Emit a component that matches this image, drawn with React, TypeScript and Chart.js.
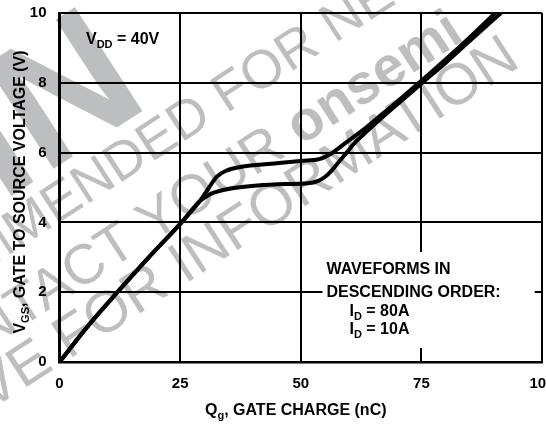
import React, { useEffect, useRef } from 'react';
import { Chart, registerables } from 'chart.js';

Chart.register(...registerables);

// ---- data ----
const chargeTicks = [0, 25, 50, 75, 100];
const voltageTicks = [0, 2, 4, 6, 8, 10];

// I_D = 80A (upper plateau)
const qg80A = [0, 6, 12, 18.5, 25.3, 29, 31, 32.5, 34.5, 38, 44, 50, 54, 56.5, 59.5, 63, 67, 71, 75, 80, 85, 90.3];
const vgs80A = [0, 1.05, 2.0, 3.0, 4.0, 4.6, 5.0, 5.3, 5.48, 5.6, 5.68, 5.76, 5.82, 5.99, 6.3, 6.66, 7.12, 7.58, 8.06, 8.67, 9.3, 10];
// I_D = 10A (lower plateau)
const qg10A = [0, 6, 12, 18.5, 25.3, 29, 30.5, 32, 35.5, 41, 47, 51.5, 53.5, 55, 56.5, 58, 59.5, 61, 63, 67, 71, 75, 80, 85, 91.5];
const vgs10A = [0, 1.05, 2.0, 3.0, 4.0, 4.6, 4.75, 4.85, 4.97, 5.06, 5.1, 5.12, 5.18, 5.3, 5.5, 5.75, 6.0, 6.25, 6.52, 7.02, 7.5, 7.98, 8.57, 9.2, 10];

const xAxisTitle = [{ t: 'Q' }, { t: 'g', sub: true }, { t: ', GATE CHARGE (nC)' }];
const yAxisTitle = [{ t: 'V' }, { t: 'GS', sub: true }, { t: ', GATE TO SOURCE VOLTAGE (V)' }];
const vddLabel = [{ t: 'V' }, { t: 'DD', sub: true }, { t: ' = 40V' }];
const noteLines = [
  [{ t: 'WAVEFORMS IN' }],
  [{ t: 'DESCENDING ORDER:' }],
  [{ t: 'I' }, { t: 'D', sub: true }, { t: ' = 80A' }],
  [{ t: 'I' }, { t: 'D', sub: true }, { t: ' = 10A' }],
];

const FONT = "'Liberation Sans', Arial, Helvetica, sans-serif";

type Seg = { t: string; sub?: boolean };

function segWidth(ctx: CanvasRenderingContext2D, segs: Seg[], size: number) {
  let w = 0;
  for (const s of segs) {
    ctx.font = `bold ${s.sub ? Math.round(size * 0.7) : size}px ${FONT}`;
    w += ctx.measureText(s.t).width;
  }
  return w;
}

function drawSegs(ctx: CanvasRenderingContext2D, segs: Seg[], x: number, y: number, size: number, align: 'left' | 'center') {
  const w = segWidth(ctx, segs, size);
  let cx = align === 'center' ? x - w / 2 : x;
  ctx.textAlign = 'left';
  ctx.textBaseline = 'alphabetic';
  for (const s of segs) {
    ctx.font = `bold ${s.sub ? Math.round(size * 0.7) : size}px ${FONT}`;
    ctx.fillText(s.t, cx, s.sub ? y + size * 0.28 : y);
    cx += ctx.measureText(s.t).width;
  }
}

// watermark: text lines anchored on one word (center at u,v in rotated frame)
const WM_ANGLE = (33 * Math.PI) / 180;
const wmLines = [
  { segs: [{ t: 'NOT RECOMMENDED ' }, { t: 'FOR' }, { t: ' NEW DESIGN' }], anchor: 1, u: 185, v: 204, size: 54, bold: [false, false, false] },
  { segs: [{ t: 'CONTACT YOUR ' }, { t: 'onsemi' }, { t: ' ' }], anchor: 1, u: 271, v: 271, size: 56, bold: [false, true, false] },
  { segs: [{ t: 'REPRESENTATIVE ' }, { t: 'FOR' }, { t: ' INFORMATION' }], anchor: 1, u: -77, v: 323, size: 58, bold: [false, false, false] },
  { segs: [{ t: 'IN' }], anchor: 0, u: -19, v: 121, size: 180, bold: [true] },
];

const watermarkPlugin = {
  id: 'watermark',
  beforeDraw(chart: any) {
    const ctx: CanvasRenderingContext2D = chart.ctx;
    ctx.save();
    ctx.fillStyle = '#bcbec0';
    ctx.rotate(-WM_ANGLE);
    ctx.textBaseline = 'middle';
    ctx.textAlign = 'left';
    for (const ln of wmLines) {
      const widths = ln.segs.map((s, i) => {
        ctx.font = `${ln.bold[i] ? 'bold ' : ''}${ln.size}px ${FONT}`;
        return ctx.measureText(s.t).width;
      });
      let start = ln.u - widths[ln.anchor] / 2;
      for (let i = 0; i < ln.anchor; i++) start -= widths[i];
      let cu = start;
      ln.segs.forEach((s, i) => {
        ctx.font = `${ln.bold[i] ? 'bold ' : ''}${ln.size}px ${FONT}`;
        ctx.fillText(s.t, cu, ln.v);
        cu += widths[i];
      });
    }
    ctx.restore();
  },
};

const textPlugin = {
  id: 'texts',
  afterDraw(chart: any) {
    const ctx: CanvasRenderingContext2D = chart.ctx;
    const { left, right } = chart.chartArea;
    ctx.save();
    ctx.fillStyle = '#000';
    // x title
    drawSegs(ctx, xAxisTitle as Seg[], (left + right) / 2 - 5, 415, 16, 'center');
    // y title
    ctx.save();
    ctx.translate(25, 192);
    ctx.rotate(-Math.PI / 2);
    drawSegs(ctx, yAxisTitle as Seg[], 0, 0, 16, 'center');
    ctx.restore();
    // VDD label
    drawSegs(ctx, vddLabel as Seg[], 86, 44, 16, 'left');
    // annotation box
    const xs = chart.scales.x;
    const ys = chart.scales.y;
    const bx0 = xs.getPixelForValue(54.5);
    const bx1 = xs.getPixelForValue(98.5);
    const by0 = ys.getPixelForValue(3.15);
    const by1 = ys.getPixelForValue(0.4);
    ctx.fillStyle = '#fff';
    ctx.fillRect(bx0, by0, bx1 - bx0, by1 - by0);
    ctx.fillStyle = '#000';
    const tx = bx0 + 4;
    drawSegs(ctx, noteLines[0] as Seg[], tx, 274, 16, 'left');
    drawSegs(ctx, noteLines[1] as Seg[], tx, 297, 16, 'left');
    drawSegs(ctx, noteLines[2] as Seg[], tx + 23, 316, 16, 'left');
    drawSegs(ctx, noteLines[3] as Seg[], tx + 23, 334, 16, 'left');
    ctx.restore();
  },
};

export default function App() {
  const ref = useRef<HTMLCanvasElement>(null);
  useEffect(() => {
    if (!ref.current) return;
    const chart = new Chart(ref.current, {
      type: 'line',
      data: {
        datasets: [
          {
            label: 'I_D = 80A',
            data: qg80A.map((q, i) => ({ x: q, y: vgs80A[i] })),
            borderColor: '#000',
            borderWidth: 4,
            pointRadius: 0,
            cubicInterpolationMode: 'monotone',
            fill: false,
          },
          {
            label: 'I_D = 10A',
            data: qg10A.map((q, i) => ({ x: q, y: vgs10A[i] })),
            borderColor: '#000',
            borderWidth: 4,
            pointRadius: 0,
            cubicInterpolationMode: 'monotone',
            fill: false,
          },
        ],
      },
      options: {
        animation: false,
        responsive: false,
        devicePixelRatio: 1,
        layout: { padding: { left: 0, right: 4, top: 13, bottom: 0 } },
        plugins: { legend: { display: false }, tooltip: { enabled: false } },
        scales: {
          x: {
            type: 'linear',
            min: chargeTicks[0],
            max: chargeTicks[chargeTicks.length - 1],
            afterBuildTicks: (s: any) => {
              s.ticks = chargeTicks.map((v) => ({ value: v }));
            },
            ticks: {
              color: '#000',
              font: { family: FONT, size: 15, weight: 'bold' },
              padding: 13,
              maxRotation: 0,
              autoSkip: false,
            },
            grid: { color: '#000', lineWidth: 2, drawTicks: false },
            border: { color: '#000', width: 2.5 },
            afterFit: (s: any) => {
              s.height = 62;
              s.paddingLeft = 0;
              s.paddingRight = 0;
            },
          },
          y: {
            type: 'linear',
            min: voltageTicks[0],
            max: voltageTicks[voltageTicks.length - 1],
            afterBuildTicks: (s: any) => {
              s.ticks = voltageTicks.map((v) => ({ value: v }));
            },
            ticks: {
              color: '#000',
              font: { family: FONT, size: 15, weight: 'bold' },
              padding: 13,
              autoSkip: false,
            },
            grid: { color: '#000', lineWidth: 2, drawTicks: false },
            border: { color: '#000', width: 2.5 },
            afterFit: (s: any) => {
              s.width = 59.5;
              s.paddingTop = 0;
              s.paddingBottom = 0;
            },
          },
        },
      } as any,
      plugins: [watermarkPlugin, textPlugin],
    });
    return () => chart.destroy();
  }, []);
  return (
    <div style={{ position: 'fixed', left: 0, top: 0, width: 546, height: 424, overflow: 'hidden', background: '#fff' }}>
      <canvas ref={ref} width={546} height={424} style={{ width: 546, height: 424 }} />
    </div>
  );
}
